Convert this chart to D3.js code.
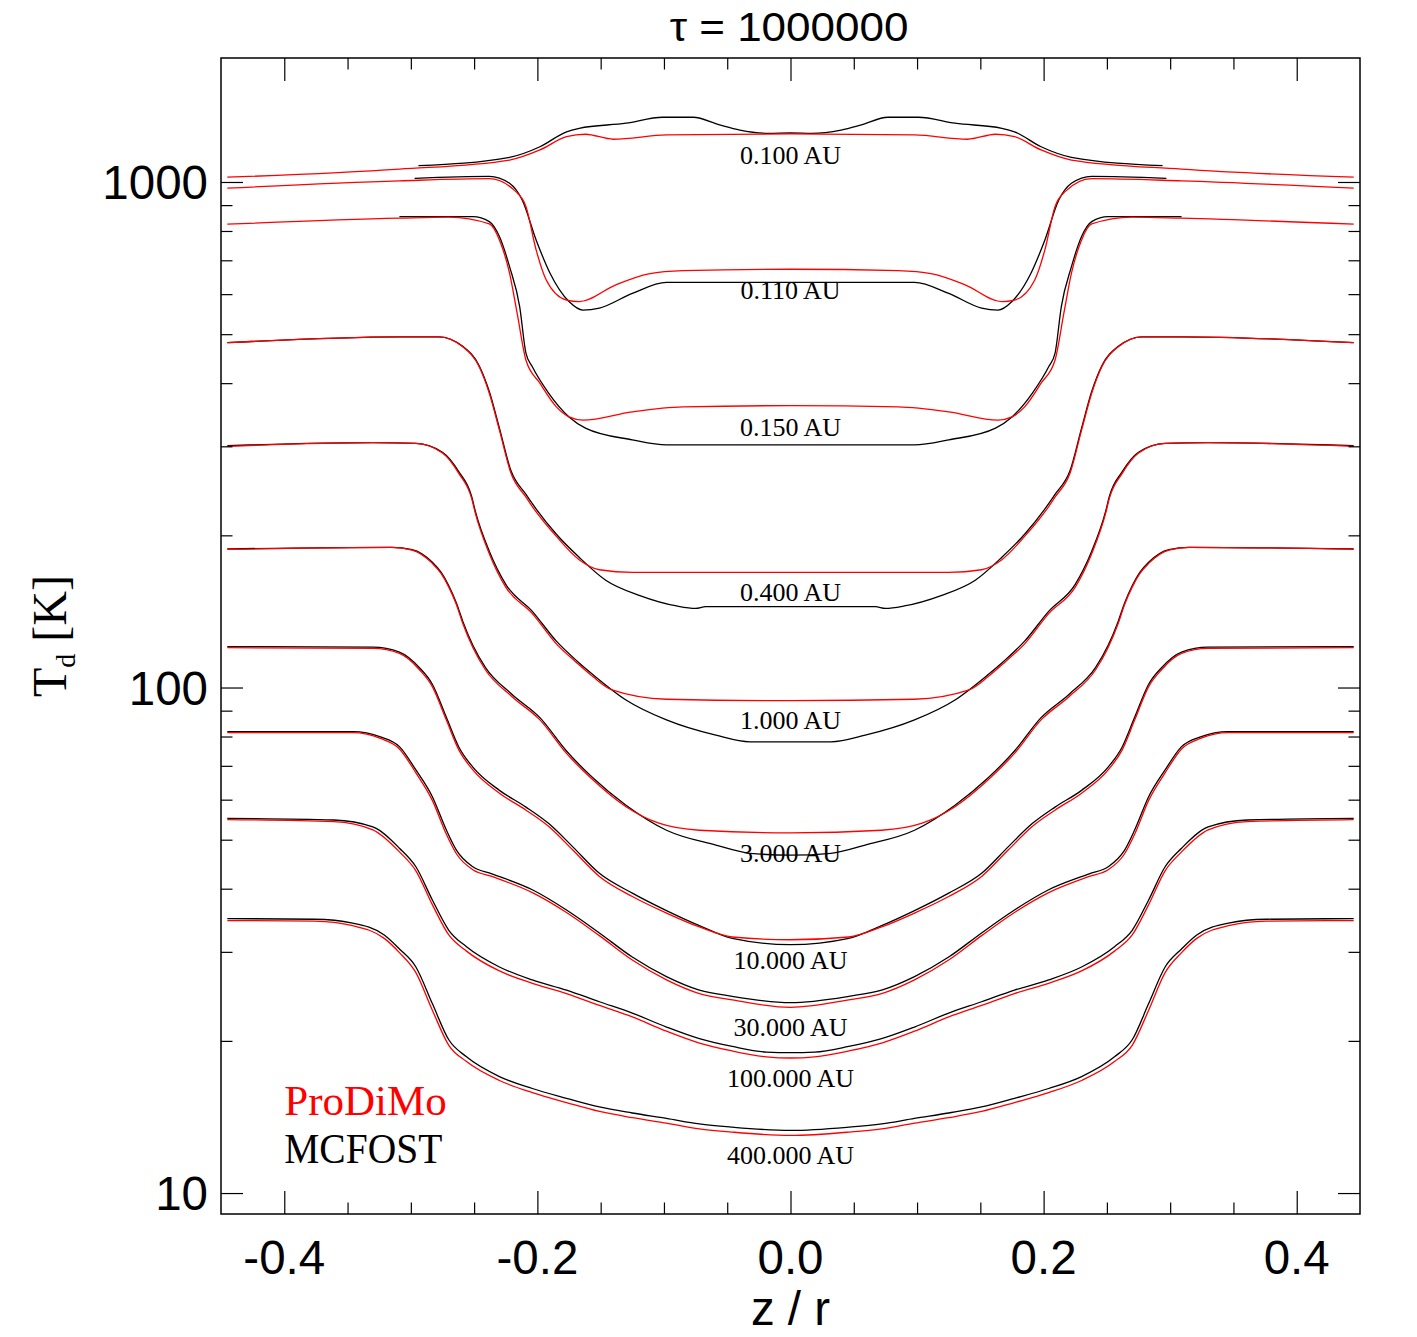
<!DOCTYPE html>
<html>
<head>
<meta charset="utf-8">
<script src="https://cdn.jsdelivr.net/npm/d3@7"></script>
<style>
  body { margin: 0; background: #fff; }
</style>
</head>
<body>
<div id="chart"></div>
<script>
// Radii of the profiles (AU) -> label text
const radii = ["0.100", "0.110", "0.150", "0.400", "1.000", "3.000", "10.000", "30.000", "100.000", "400.000"];
// Temperature (K) at which each radius label sits, at z/r = 0
const labelTemp = [1131, 612, 328, 154.5, 86.3, 47.1, 28.9, 21.3, 16.9, 11.9];

// Half profiles (z/r >= 0), one list per radius; mirrored to z/r < 0 when drawn
const prodimoZ = [
    [0, 0.098, 0.140, 0.162, 0.177, 0.198, 0.222, 0.309, 0.445],
    [0, 0.085, 0.112, 0.138, 0.167, 0.177, 0.193, 0.201, 0.209, 0.217, 0.238, 0.309, 0.445],
    [0, 0.085, 0.125, 0.164, 0.175, 0.185, 0.198, 0.209, 0.216, 0.222, 0.230, 0.238, 0.270, 0.309, 0.445],
    [0, 0.125, 0.151, 0.167, 0.185, 0.204, 0.209, 0.221, 0.230, 0.238, 0.246, 0.259, 0.278, 0.309, 0.445],
    [0, 0.098, 0.141, 0.156, 0.169, 0.185, 0.204, 0.225, 0.238, 0.249, 0.252, 0.262, 0.275, 0.296, 0.330, 0.445],
    [0, 0.072, 0.104, 0.130, 0.156, 0.177, 0.198, 0.220, 0.241, 0.251, 0.259, 0.264, 0.270, 0.276, 0.283, 0.299, 0.315, 0.445],
    [0, 0.046, 0.072, 0.098, 0.125, 0.151, 0.172, 0.191, 0.209, 0.230, 0.251, 0.262, 0.272, 0.283, 0.293, 0.309, 0.330, 0.445],
    [0, 0.046, 0.072, 0.098, 0.125, 0.151, 0.177, 0.204, 0.236, 0.251, 0.264, 0.272, 0.283, 0.296, 0.309, 0.324, 0.346, 0.445],
    [0, 0.019, 0.046, 0.072, 0.098, 0.125, 0.151, 0.177, 0.204, 0.230, 0.256, 0.270, 0.283, 0.296, 0.309, 0.330, 0.361, 0.445],
    [0, 0.046, 0.072, 0.098, 0.125, 0.151, 0.177, 0.204, 0.230, 0.256, 0.270, 0.283, 0.296, 0.309, 0.321, 0.346, 0.376, 0.445]
];
const prodimoT = [
    [1245, 1239, 1215, 1243, 1229, 1157, 1105, 1060, 1022],
    [672, 668, 658, 626, 580, 584, 640, 734, 894, 957, 1015, 1005, 972],
    [361, 359, 351, 338, 343, 359, 400, 444, 550, 660, 768, 826, 852, 848, 825],
    [169, 169, 171, 179, 199, 228, 238, 266, 323, 382, 431, 472, 494, 494, 481],
    [94.2, 94.8, 98.9, 105, 112, 122, 140, 158, 184, 221, 237, 265, 291, 304, 305, 300],
    [51.6, 52.2, 53.9, 58.1, 65.6, 74.1, 86.3, 95.9, 108.3, 120, 134, 146, 158, 168, 176, 187, 189.4, 187.7],
    [31.7, 32.1, 33.6, 35.8, 38.6, 42.3, 47.7, 53.1, 57.2, 61.8, 68.7, 75.2, 86.3, 100.4, 108.3, 116.8, 119.5, 119.9],
    [23.3, 24.1, 24.8, 26.4, 28.9, 32.3, 35.9, 39.3, 42.3, 43.6, 46.9, 51.3, 59.8, 67.8, 75.6, 79.3, 81.4, 81.4],
    [18.5, 18.6, 19.1, 19.8, 20.9, 22.3, 23.5, 24.8, 26.0, 27.5, 30.1, 32.4, 37.2, 43.4, 47.3, 52.3, 54.3, 54.8],
    [13.0, 13.2, 13.4, 13.75, 14.1, 14.5, 15.1, 15.8, 16.7, 18.2, 19.6, 23.0, 27.3, 29.9, 31.9, 33.8, 34.5, 34.6]
];

const mcfostZ = [
    [0, 0.017, 0.040, 0.056, 0.077, 0.101, 0.130, 0.167, 0.177, 0.198, 0.222, 0.294],
    [0, 0.098, 0.125, 0.151, 0.164, 0.175, 0.190, 0.201, 0.212, 0.222, 0.238, 0.297],
    [0, 0.098, 0.125, 0.162, 0.175, 0.191, 0.204, 0.209, 0.214, 0.222, 0.230, 0.238, 0.251, 0.309],
    [0, 0.067, 0.075, 0.090, 0.119, 0.146, 0.167, 0.185, 0.204, 0.209, 0.221, 0.230, 0.238, 0.246, 0.259, 0.278, 0.309, 0.445],
    [0, 0.032, 0.059, 0.098, 0.130, 0.156, 0.169, 0.185, 0.204, 0.225, 0.238, 0.249, 0.252, 0.262, 0.275, 0.296, 0.330, 0.445],
    [0, 0.032, 0.059, 0.098, 0.130, 0.156, 0.177, 0.198, 0.220, 0.241, 0.251, 0.259, 0.264, 0.270, 0.276, 0.283, 0.299, 0.315, 0.445],
    [0, 0.046, 0.072, 0.098, 0.125, 0.151, 0.172, 0.191, 0.209, 0.230, 0.251, 0.262, 0.272, 0.283, 0.293, 0.309, 0.330, 0.445],
    [0, 0.046, 0.072, 0.098, 0.125, 0.151, 0.177, 0.204, 0.236, 0.251, 0.264, 0.272, 0.283, 0.296, 0.309, 0.324, 0.346, 0.445],
    [0, 0.019, 0.046, 0.072, 0.098, 0.125, 0.151, 0.177, 0.204, 0.230, 0.256, 0.270, 0.283, 0.296, 0.309, 0.330, 0.361, 0.445],
    [0, 0.046, 0.072, 0.098, 0.125, 0.151, 0.177, 0.204, 0.230, 0.256, 0.270, 0.283, 0.296, 0.309, 0.321, 0.346, 0.376, 0.445]
];
const mcfostT = [
    [1250, 1248, 1267, 1297, 1343, 1343, 1307, 1277, 1257, 1174, 1119, 1077],
    [633, 633, 602, 563, 558, 580, 660, 768, 921, 994, 1026, 1017],
    [302, 302, 309, 326, 343, 382, 431, 458, 567, 680, 780, 835, 854, 854],
    [144.5, 144.5, 143.4, 145, 152, 163, 181, 201, 231, 241, 269, 326, 385, 433, 473, 494, 494, 481],
    [78.1, 78.1, 80.5, 86.3, 94.5, 106, 113, 123.5, 141.5, 160, 186, 223, 239, 267, 292, 304, 305, 301],
    [46.6, 47.0, 48.8, 52.2, 58.5, 66.2, 74.9, 87.2, 96.9, 109.5, 121.2, 135.3, 147, 159, 169, 177, 187.5, 189.4, 188],
    [31.0, 31.9, 33.8, 36.2, 39.2, 42.9, 48.4, 53.8, 58.0, 62.6, 69.6, 76.2, 87.4, 101.5, 109.3, 117.5, 120.2, 120.5],
    [23.8, 24.5, 25.2, 26.8, 29.3, 32.7, 36.3, 39.8, 42.8, 44.2, 47.7, 52.3, 60.8, 68.7, 76.4, 79.9, 81.8, 81.8],
    [18.95, 19.0, 19.5, 20.2, 21.3, 22.7, 23.9, 25.2, 26.4, 28.0, 30.7, 33.1, 38.0, 44.2, 48.1, 53.0, 54.7, 55.1],
    [13.3, 13.5, 13.7, 14.05, 14.4, 14.8, 15.4, 16.1, 17.0, 18.6, 20.1, 23.7, 28.0, 30.4, 32.4, 34.2, 34.8, 34.9]
];

// Axis ticks
const xLabelTicks = [-0.4, -0.2, 0.0, 0.2, 0.4];
const yLabelTicks = [10, 100, 1000];

const sans = "'Liberation Sans', Arial, Helvetica, sans-serif";
const serif = "'Liberation Serif', 'Times New Roman', Times, serif";

// Page and plot box
const W = 1417, H = 1337;
const margin = { top: 58, right: 57, bottom: 123, left: 221 };
const width = W - margin.left - margin.right;
const height = H - margin.top - margin.bottom;

const svg = d3.select("#chart")
    .append("svg")
    .attr("width", W)
    .attr("height", H);

const g = svg.append("g")
    .attr("transform", `translate(${margin.left},${margin.top})`);

const x = d3.scaleLinear()
    .domain([-0.45, 0.45])
    .range([0, width]);

const y = d3.scaleLog()
    .domain([9.09, 1759])
    .range([height, 0]);

// Mirror a half profile into a full one
function fullProfile(zs, ts) {
    let pts = [];
    for (let i = zs.length - 1; i > 0; i--) pts.push([-zs[i], ts[i]]);
    for (let i = 0; i < zs.length; i++) pts.push([zs[i], ts[i]]);
    return pts;
}

const line = d3.line()
    .x(d => x(d[0]))
    .y(d => y(d[1]))
    .curve(d3.curveMonotoneX);

// Curves: MCFOST black first, ProDiMo red drawn over it
radii.forEach((r, i) => {
    g.append("path")
        .datum(fullProfile(mcfostZ[i], mcfostT[i]))
        .attr("fill", "none")
        .attr("stroke", "#000")
        .attr("stroke-width", 1.3)
        .attr("d", line);
    g.append("path")
        .datum(fullProfile(prodimoZ[i], prodimoT[i]))
        .attr("fill", "none")
        .attr("stroke", "#ff0000")
        .attr("stroke-width", 1.3)
        .attr("d", line);
});

// Radius labels
g.selectAll(".rlabel")
    .data(radii)
    .enter().append("text")
    .attr("class", "rlabel")
    .attr("x", x(0))
    .attr("y", (d, i) => y(labelTemp[i]) + 9)
    .attr("text-anchor", "middle")
    .attr("font-family", serif)
    .attr("font-size", 26)
    .text(d => `${d} AU`);

// Frame
g.append("rect")
    .attr("width", width)
    .attr("height", height)
    .attr("fill", "none")
    .attr("stroke", "#000")
    .attr("stroke-width", 1.5);

// Tick helper: axis with inward ticks, no domain line
function ticks(axisFn, scale, values, size, transform) {
    const a = g.append("g")
        .attr("transform", transform)
        .call(axisFn(scale).tickValues(values).tickSize(-size).tickFormat(""));
    a.select(".domain").remove();
    a.selectAll("line").attr("stroke", "#000").attr("stroke-width", 1.2);
    return a;
}

const xMinor = d3.range(-0.45, 0.451, 0.05).map(v => +v.toFixed(2))
    .filter(v => Math.abs(v) < 0.449 && !xLabelTicks.some(t => Math.abs(t - v) < 1e-6));
let yMinor = [];
[10, 100, 1000].forEach(dec => {
    for (let k = 2; k <= 9; k++) {
        const v = dec * k;
        if (v > 9.09 && v < 1759) yMinor.push(v);
    }
});

ticks(d3.axisBottom, x, xLabelTicks, 23, `translate(0,${height})`);
ticks(d3.axisBottom, x, xMinor, 11.5, `translate(0,${height})`);
ticks(d3.axisTop, x, xLabelTicks, 23, "translate(0,0)");
ticks(d3.axisTop, x, xMinor, 11.5, "translate(0,0)");
ticks(d3.axisLeft, y, yLabelTicks, 22, "translate(0,0)");
ticks(d3.axisLeft, y, yMinor, 11.5, "translate(0,0)");
ticks(d3.axisRight, y, yLabelTicks, 22, `translate(${width},0)`);
ticks(d3.axisRight, y, yMinor, 11.5, `translate(${width},0)`);

// Tick labels
g.selectAll(".xtl")
    .data(xLabelTicks)
    .enter().append("text")
    .attr("x", d => x(d))
    .attr("y", height + 60)
    .attr("text-anchor", "middle")
    .attr("font-family", sans)
    .attr("font-size", 47.5)
    .text(d => d.toFixed(1));

g.selectAll(".ytl")
    .data(yLabelTicks)
    .enter().append("text")
    .attr("x", -13)
    .attr("y", d => y(d) + 17)
    .attr("text-anchor", "end")
    .attr("font-family", sans)
    .attr("font-size", 47.5)
    .text(d => d);

// Axis titles
svg.append("text")
    .attr("x", margin.left + x(0))
    .attr("y", 1325)
    .attr("text-anchor", "middle")
    .attr("font-family", sans)
    .attr("font-size", 47.5)
    .text("z / r");

const yl = svg.append("text")
    .attr("transform", `translate(66,${margin.top + height / 2}) rotate(-90)`)
    .attr("text-anchor", "middle")
    .attr("font-family", serif)
    .attr("font-size", 48);
yl.append("tspan").text("T");
yl.append("tspan").attr("font-size", 28).attr("dy", 9).text("d");
yl.append("tspan").attr("dy", -9).text(" [K]");

// Title
svg.append("text")
    .attr("transform", `translate(789,41) scale(1.1,1)`)
    .attr("text-anchor", "middle")
    .attr("font-family", sans)
    .attr("font-size", 40)
    .text("\u03c4 = 1000000");

// Legend
g.append("text")
    .attr("x", x(-0.4))
    .attr("y", 1115 - margin.top)
    .attr("font-family", serif)
    .attr("font-size", 43)
    .attr("fill", "#ff0000")
    .text("ProDiMo");
g.append("text")
    .attr("x", x(-0.4))
    .attr("y", 1163 - margin.top)
    .attr("font-family", serif)
    .attr("font-size", 43)
    .attr("fill", "#000")
    .attr("textLength", 158)
    .attr("lengthAdjust", "spacingAndGlyphs")
    .text("MCFOST");
</script>
</body>
</html>
